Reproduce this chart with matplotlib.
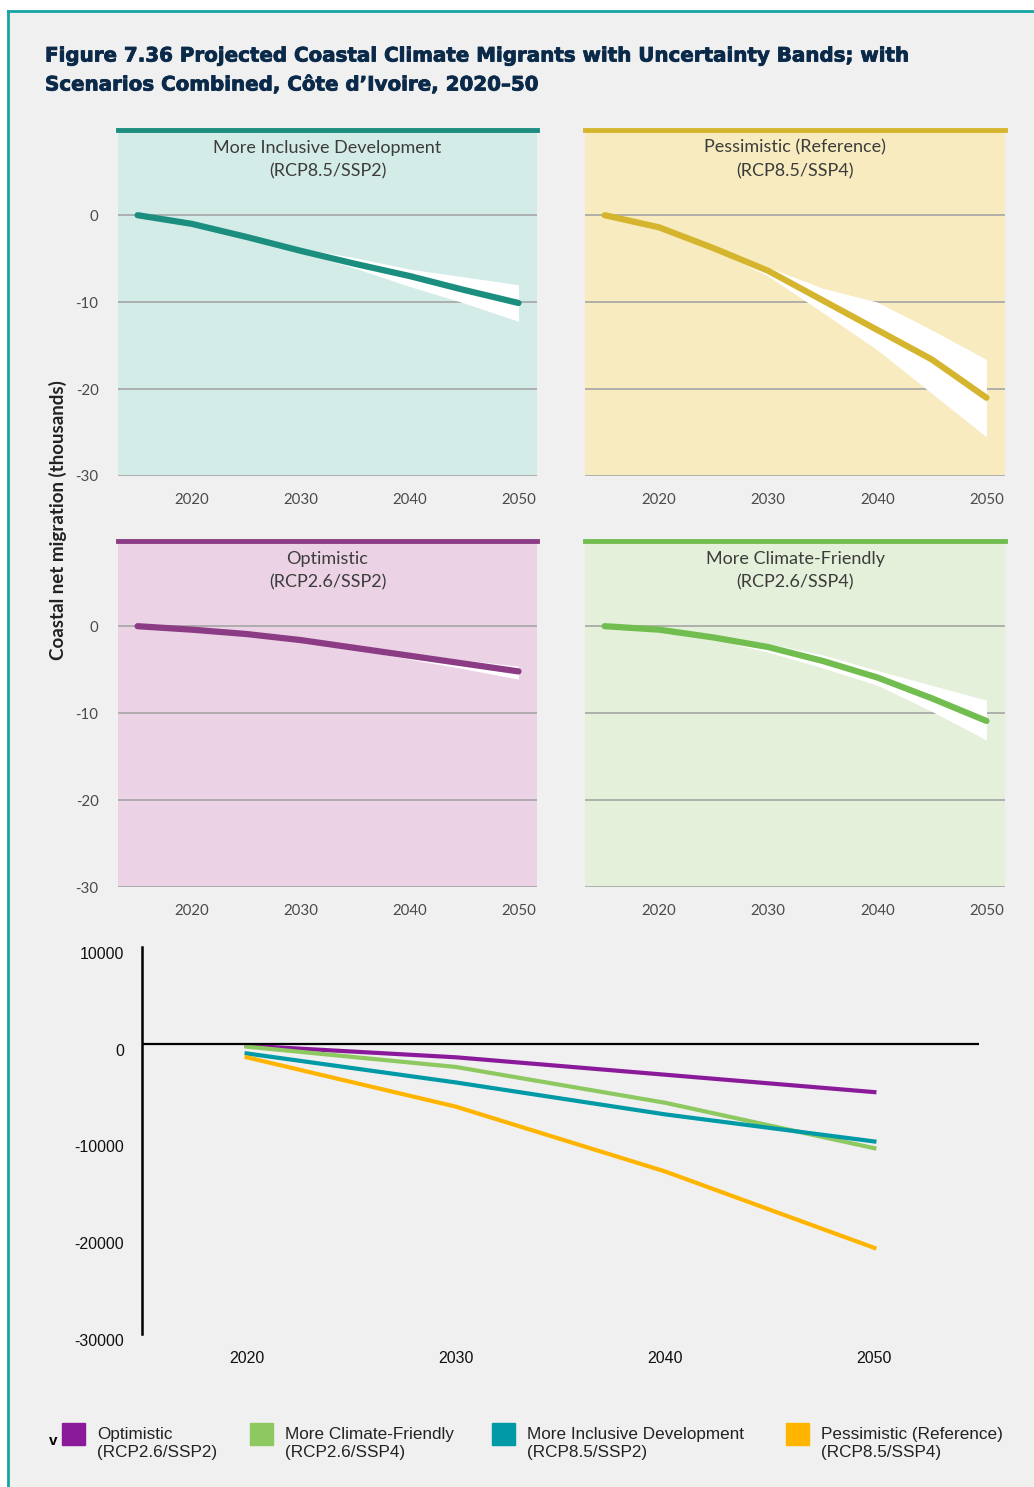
import numpy as np
import matplotlib
matplotlib.use("Agg")
from matplotlib import pyplot as plt
from matplotlib.lines import Line2D
from matplotlib.patches import Rectangle
import matplotlib.transforms as mtransforms
import matplotlib.patheffects as pe

plt.rcParams["axes.unicode_minus"] = False

W, H = 1034, 1487

# small panels: values in thousands, 5-year steps
years5 = [2015, 2020, 2025, 2030, 2035, 2040, 2045, 2050]

incl_mid = [0, -1.0, -2.5, -4.1, -5.6, -7.0, -8.6, -10.1]
incl_hi = [0, -1.0, -2.4, -3.8, -4.9, -6.2, -7.1, -8.0]
incl_lo = [0, -1.0, -2.5, -4.3, -6.1, -8.2, -10.1, -12.2]

pess_mid = [0, -1.4, -3.8, -6.4, -9.8, -13.2, -16.6, -21.0]
pess_hi = [0, -1.4, -3.6, -6.0, -8.4, -10.0, -13.2, -16.6]
pess_lo = [0, -1.4, -4.0, -7.0, -11.2, -15.5, -20.5, -25.5]

opt_mid = [0, -0.4, -0.9, -1.6, -2.5, -3.4, -4.3, -5.2]
opt_hi = [0, -0.4, -0.9, -1.5, -2.3, -3.1, -3.9, -4.6]
opt_lo = [0, -0.4, -0.9, -1.7, -2.7, -3.8, -4.9, -6.1]

clim_mid = [0, -0.4, -1.3, -2.4, -4.0, -5.9, -8.3, -10.9]
clim_hi = [0, -0.4, -1.2, -2.0, -3.3, -5.1, -6.8, -8.5]
clim_lo = [0, -0.4, -1.5, -3.0, -4.8, -6.8, -9.8, -13.1]

# combined chart, persons
years10 = [2020, 2030, 2040, 2050]
opt_all = [-200, -1400, -3200, -5000]
clim_all = [-300, -2400, -6100, -10800]
incl_all = [-1000, -4000, -7300, -10100]
pess_all = [-1400, -6500, -13200, -21100]

def box(x0, y0, x1, y1):
    return [x0 / W, 1 - y1 / H, (x1 - x0) / W, (y1 - y0) / H]

fig = plt.figure(figsize=(W / 100, H / 100), dpi=100)
fig.patch.set_facecolor("#f0f0f0")

# white margin + teal frame
fig.add_artist(Rectangle((0, 1 - 10 / H), 1, 10 / H, transform=fig.transFigure, color="white", zorder=0))
fig.add_artist(Rectangle((0, 0), 8 / W, 1, transform=fig.transFigure, color="white", zorder=0))
fig.add_artist(Line2D([8 / W, 1], [1 - 11 / H, 1 - 11 / H], transform=fig.transFigure, color="#12a5a3", lw=2))
fig.add_artist(Line2D([8 / W, 8 / W], [0, 1 - 11 / H], transform=fig.transFigure, color="#12a5a3", lw=2))

heavy = [pe.withStroke(linewidth=0.6, foreground="#0b2a4a")]
fig.text(45 / W, 1 - 56 / H, "Figure 7.36 Projected Coastal Climate Migrants with Uncertainty Bands; with",
         fontsize=14.3, fontweight="bold", family="DejaVu Sans", color="#0b2a4a", va="center",
         path_effects=heavy)
fig.text(45 / W, 1 - 85 / H, "Scenarios Combined, Côte d\u2019Ivoire, 2020\u201350",
         fontsize=14.3, fontweight="bold", family="DejaVu Sans", color="#0b2a4a", va="center",
         path_effects=heavy)

panels = [
    ((118, 130, 537, 476), "More Inclusive Development\n(RCP8.5/SSP2)", incl_mid, incl_hi, incl_lo, "#d4ece8", "#1b8e7f", True),
    ((585, 130, 1005, 476), "Pessimistic (Reference)\n(RCP8.5/SSP4)", pess_mid, pess_hi, pess_lo, "#f7ebbf", "#d6b52e", False),
    ((118, 541, 537, 887), "Optimistic\n(RCP2.6/SSP2)", opt_mid, opt_hi, opt_lo, "#ebd3e5", "#8c3c85", True),
    ((585, 541, 1005, 887), "More Climate-Friendly\n(RCP2.6/SSP4)", clim_mid, clim_hi, clim_lo, "#e4f0d9", "#72bd50", False),
]

for pos, title, mid, hi, lo, bg, col, show_y in panels:
    ax = fig.add_axes(box(*pos))
    ax.set_facecolor(bg)
    ax.fill_between(years5, lo, hi, color="white", lw=0, zorder=2)
    ax.plot(years5, mid, color=col, lw=4.5, solid_capstyle="round", zorder=3)
    for v in [0, -10, -20, -30]:
        ax.axhline(v, color="#a5a5a5", lw=1.2, zorder=1)
    ax.set_xlim(2013.2, 2051.7)
    ax.set_ylim(-30, 9.8)
    for s in ["left", "right", "bottom"]:
        ax.spines[s].set_visible(False)
    ax.spines["top"].set_color(col)
    ax.spines["top"].set_linewidth(3.5)
    ax.set_xticks([2020, 2030, 2040, 2050])
    ax.set_yticks([0, -10, -20, -30])
    ax.tick_params(length=0, labelsize=10.8, labelcolor="#4a4a4a")
    ax.tick_params(axis="x", pad=12)
    ax.tick_params(axis="y", pad=14)
    if not show_y:
        ax.set_yticklabels([])
    for lab in ax.get_xticklabels() + ax.get_yticklabels():
        lab.set_family("Lato")
    ax.text(0.5, 0.972, title, transform=ax.transAxes, ha="center", va="top",
            fontsize=13, family="Lato", color="#3c3c3c", linespacing=1.6)

fig.text(58 / W, 1 - 520 / H, "Coastal net migration (thousands)", rotation=90, ha="center", va="center",
         fontsize=13.5, fontweight="bold", family="Lato", color="#222222")

# combined chart
ax = fig.add_axes(box(142, 947, 979, 1334))
ax.set_facecolor("none")
ax.plot(years10, opt_all, color="#8b1a9b", lw=3)
ax.plot(years10, clim_all, color="#8dc860", lw=3)
ax.plot(years10, incl_all, color="#0099a6", lw=3)
ax.plot(years10, pess_all, color="#ffb400", lw=3)
ax.axhline(0, color="black", lw=1.6)
ax.set_xlim(2015, 2055)
ax.set_ylim(-30000, 10000)
for s in ["top", "right", "bottom"]:
    ax.spines[s].set_visible(False)
ax.spines["left"].set_linewidth(1.8)
ax.set_xticks(years10)
ax.set_yticks([10000, 0, -10000, -20000, -30000])
ax.set_yticklabels(["10000", "0", "-10000", "-20000", "-30000"])
ax.tick_params(length=0, labelsize=11.5, labelcolor="#111111")
ax.tick_params(axis="y", pad=13)
ax.tick_params(axis="x", pad=12)
off = mtransforms.ScaledTranslation(0, -6 / 100, fig.dpi_scale_trans)
for lab in ax.get_yticklabels():
    lab.set_transform(lab.get_transform() + off)
for lab in ax.get_xticklabels() + ax.get_yticklabels():
    lab.set_family("Liberation Sans")

# legend
leg_names = ["Optimistic\n(RCP2.6/SSP2)", "More Climate-Friendly\n(RCP2.6/SSP4)",
             "More Inclusive Development\n(RCP8.5/SSP2)", "Pessimistic (Reference)\n(RCP8.5/SSP4)"]
leg_cols = ["#8b1a9b", "#8dc860", "#0099a6", "#ffb400"]
leg_x = [62, 250, 492, 786]
fig.text(49 / W, 1 - 1441 / H, "v", fontsize=11, fontweight="bold", family="Liberation Sans", va="center")
for x, name, c in zip(leg_x, leg_names, leg_cols):
    fig.add_artist(Rectangle((x / W, 1 - 1445 / H), 23 / W, 22 / H, transform=fig.transFigure, color=c))
    fig.text((x + 35) / W, 1 - 1444 / H, name, fontsize=12.3, family="Liberation Sans", color="#222222",
             va="center", linespacing=1.25)

fig.savefig("out.png", dpi=100, facecolor=fig.get_facecolor())
